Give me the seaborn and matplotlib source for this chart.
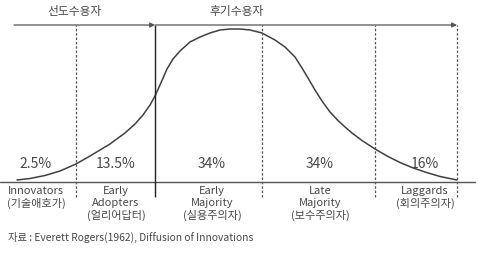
import matplotlib
matplotlib.use("Agg")
import matplotlib.pyplot as plt
import seaborn as sns
import pandas as pd

sns.set_style("white")
plt.rcParams['font.family'] = ['Noto Sans CJK KR', 'DejaVu Sans']

# Adoption curve (x position, height above baseline)
curve_x = [17, 30, 45, 60, 76, 90, 110, 125, 135, 143, 150, 155, 160, 167, 173, 180, 190,
           200, 210, 220, 230, 240, 250, 262, 275, 285, 295, 302, 308, 315, 322,
           330, 338, 345, 352, 362, 375, 388, 400, 412, 425, 440, 457]
curve_h = [2, 3.5, 6.5, 11, 18, 26, 38, 49, 58, 67, 77, 86, 97, 113, 123, 131, 140,
           145, 149, 152, 153, 153, 152, 149, 142, 135, 125, 114, 104, 92, 81,
           70, 61.5, 55, 49, 41.5, 33, 25.5, 19.5, 14.5, 10, 5.5, 2]

# Category boundaries
bounds_dashed = [76, 262, 375, 457]
bound_solid = [155]
top_arrow_ends = [155, 457]
top_start = 14

percents = ["2.5%", "13.5%", "34%", "34%", "16%"]
pct_x = [36, 116, 212, 320, 425]
categories = ["Innovators\n(기술애호가)", "Early\nAdopters\n(얼리어답터)",
              "Early\nMajority\n(실용주의자)", "Late\nMajority\n(보수주의자)",
              "Laggards\n(회의주의자)"]
groups = ["선도수용자", "후기수용자"]
group_x = [75, 237]
source = "자료 : Everett Rogers(1962), Diffusion of Innovations"

df = pd.DataFrame({"x": curve_x, "h": curve_h})

fig = plt.figure(figsize=(4.8, 2.54), dpi=100)
ax = fig.add_axes([0, 0, 1, 1])
ax.set_xlim(0, 480)
ax.set_ylim(-72, 182)
ax.axis("off")

line_col = "#555555"
txt_col = "#484848"

sns.lineplot(data=df, x="x", y="h", ax=ax, color="#404040", linewidth=1.1)

# baseline
ax.plot([0, 475], [0, 0], color=line_col, lw=1.0)

# top arrows
prev = top_start
for end in top_arrow_ends:
    ax.annotate("", xy=(end, 157), xytext=(prev, 157),
                arrowprops=dict(arrowstyle="-|>", color=line_col, lw=0.9,
                                mutation_scale=7, shrinkA=0, shrinkB=0))
    prev = end

ax.vlines(bounds_dashed, -15, 157, colors=line_col, linestyles=(0, (2, 1.5)), lw=0.9)
ax.vlines(bound_solid, -15, 157, colors="#222222", lw=1.0)

for g, gx in zip(groups, group_x):
    ax.text(gx, 170, g, ha="center", va="center", fontsize=8.5, color=txt_col)

for p, px in zip(percents, pct_x):
    ax.text(px, 18, p, ha="center", va="center", fontsize=10, color=txt_col)

for c, px in zip(categories, pct_x):
    ax.text(px, -4, c, ha="center", va="top", fontsize=8, color=txt_col,
            linespacing=1.25)

ax.text(8, -55, source, ha="left", va="center", fontsize=7.4, color=txt_col)

fig.savefig("out.png", dpi=100)
